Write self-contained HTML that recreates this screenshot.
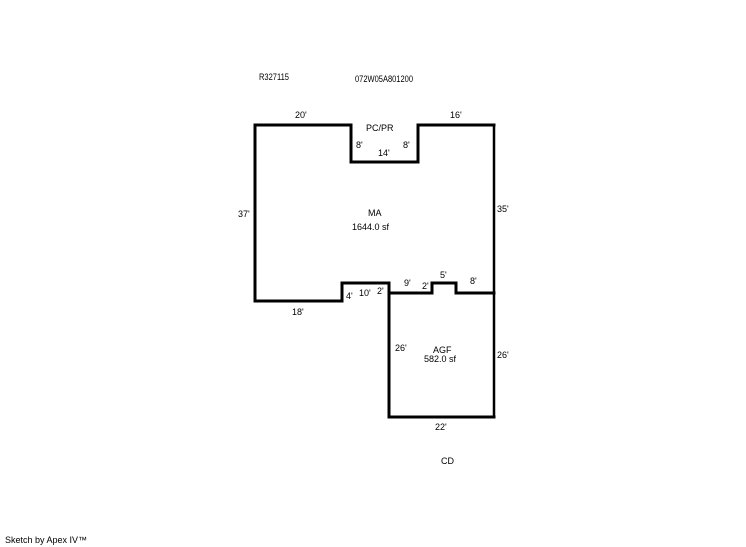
<!DOCTYPE html>
<html><head><meta charset="utf-8"><style>
html,body{margin:0;padding:0;background:#fff;}
svg{display:block;}
text{font-family:"Liberation Sans",sans-serif;font-size:9px;fill:#000;}
</style></head><body>
<svg width="746" height="547" viewBox="0 0 746 547" xmlns="http://www.w3.org/2000/svg">
<g fill="none" stroke="#000" stroke-width="3" stroke-linecap="square">
<polyline points="255,125 351,125 351,162 418,162 418,125 494,125"/>
<polyline points="255,125 255,301 342,301 342,283 389,283 389,417 494,417"/>
<polyline points="389,293 432,293 432,283 456,283 456,293 494,293"/>
</g>
<line x1="494" y1="125" x2="494" y2="418" stroke="#000" stroke-width="2.5"/>
<text x="259" y="80" font-size="8" textLength="30" lengthAdjust="spacingAndGlyphs">R327115</text>
<text x="355" y="82" font-size="8" textLength="58" lengthAdjust="spacingAndGlyphs">072W05A801200</text>
<text x="295" y="118">20'</text>
<text x="450" y="118">16'</text>
<text x="366" y="131">PC/PR</text>
<text x="356" y="148">8'</text>
<text x="403" y="148">8'</text>
<text x="378" y="156">14'</text>
<text x="238" y="217">37'</text>
<text x="497" y="212">35'</text>
<text x="368" y="216">MA</text>
<text x="352" y="230">1644.0 sf</text>
<text x="404" y="286">9'</text>
<text x="422" y="289">2'</text>
<text x="440" y="278">5'</text>
<text x="470" y="284">8'</text>
<text x="346" y="299">4'</text>
<text x="359" y="296">10'</text>
<text x="377" y="294">2'</text>
<text x="292" y="315">18'</text>
<text x="395" y="351">26'</text>
<text x="497" y="358">26'</text>
<text x="433" y="353">AGF</text>
<text x="424" y="362">582.0 sf</text>
<text x="435" y="430">22'</text>
<text x="441" y="464">CD</text>
<text x="5" y="543">Sketch by Apex IV™</text>
</svg>
</body></html>
